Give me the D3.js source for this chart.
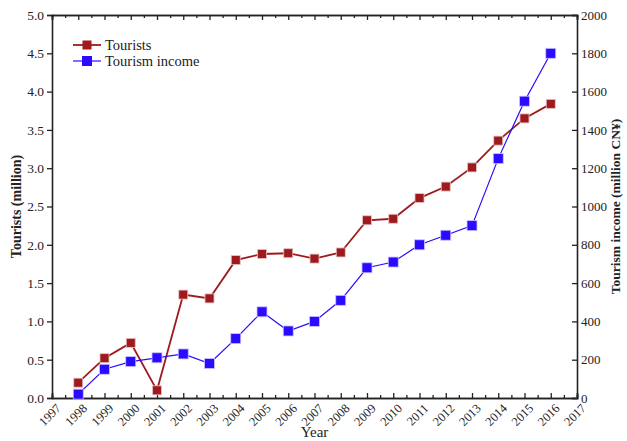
<!DOCTYPE html>
<html lang="en">
<head>
<meta charset="UTF-8">
<script src="https://d3js.org/d3.v7.min.js"></script>
<style>
  body { margin: 0; background: #fff; }
  svg text { font-family: "Liberation Serif", "DejaVu Serif", serif; fill: #222; }
</style>
</head>
<body>
<div id="viz"></div>
<script>
// data
var years = [1998,1999,2000,2001,2002,2003,2004,2005,2006,2007,2008,2009,2010,2011,2012,2013,2014,2015,2016];
var tourists = [0.2,0.52,0.72,0.1,1.35,1.3,1.8,1.88,1.89,1.82,1.9,2.32,2.34,2.61,2.76,3.01,3.36,3.65,3.84];
var income = [20,150,190,210,230,180,310,450,350,400,510,680,710,800,850,900,1250,1550,1800];
var leftTicks = [0,0.5,1,1.5,2,2.5,3,3.5,4,4.5,5];
var rightTicks = [0,200,400,600,800,1000,1200,1400,1600,1800,2000];
var yearTicks = d3.range(1997, 2018);

var W = 627, H = 441;
var m = {left: 52, right: 50, top: 15, bottom: 43};
var svg = d3.select("#viz").append("svg").attr("width", W).attr("height", H);

var x = d3.scaleLinear().domain([1997, 2017]).range([m.left, W - m.right]);
var yL = d3.scaleLinear().domain([0, 5]).range([H - m.bottom, m.top]);
var yR = d3.scaleLinear().domain([0, 2000]).range([H - m.bottom, m.top]);

var red = "#9e1a1d", blue = "#2a0bff";

// frame axes
var bottom = svg.append("g").attr("transform", "translate(0," + (H - m.bottom) + ")")
  .call(d3.axisBottom(x).tickValues(yearTicks).tickSize(-5).tickFormat(d3.format("d")));
bottom.selectAll(".tick text")
  .attr("transform", "rotate(-45)")
  .attr("text-anchor", "end")
  .attr("dx", "-0.1em").attr("dy", "0.9em")
  .style("font-size", "12.5px");
// minor ticks
svg.append("g").attr("transform", "translate(0," + (H - m.bottom) + ")")
  .call(d3.axisBottom(x).tickValues(d3.range(1997.5, 2017, 1)).tickSize(-3).tickFormat(""));
svg.append("g").attr("transform", "translate(0," + m.top + ")")
  .call(d3.axisTop(x).tickValues(yearTicks).tickSize(-5).tickFormat(""));
svg.append("g").attr("transform", "translate(0," + m.top + ")")
  .call(d3.axisTop(x).tickValues(d3.range(1997.5, 2017, 1)).tickSize(-3).tickFormat(""));

var left = svg.append("g").attr("transform", "translate(" + m.left + ",0)")
  .call(d3.axisLeft(yL).tickValues(leftTicks).tickSize(5).tickFormat(d3.format(".1f")));
left.selectAll(".tick text").style("font-size", "13.5px");

var right = svg.append("g").attr("transform", "translate(" + (W - m.right) + ",0)")
  .call(d3.axisRight(yR).tickValues(rightTicks).tickSize(-5).tickPadding(4).tickFormat(d3.format("d")));
right.selectAll(".tick text").style("font-size", "13px");

svg.selectAll(".domain").attr("stroke", "#222").attr("stroke-width", 1.6);
svg.selectAll(".tick line").attr("stroke", "#222").attr("stroke-width", 1.3);

// lines
svg.append("path").datum(years)
  .attr("fill", "none").attr("stroke", red).attr("stroke-width", 1.8)
  .attr("d", d3.line().x(d => x(d)).y((d, i) => yL(tourists[i])));
svg.append("path").datum(years)
  .attr("fill", "none").attr("stroke", blue).attr("stroke-width", 1.2)
  .attr("d", d3.line().x(d => x(d)).y((d, i) => yR(income[i])));

// markers
svg.selectAll(".mt").data(years).enter().append("rect")
  .attr("x", d => x(d) - 4.5).attr("y", (d, i) => yL(tourists[i]) - 4.5)
  .attr("width", 9).attr("height", 9)
  .attr("fill", red).attr("stroke", "#e6c4c4").attr("stroke-width", 0.8);
svg.selectAll(".mi").data(years).enter().append("rect")
  .attr("x", d => x(d) - 5).attr("y", (d, i) => yR(income[i]) - 5)
  .attr("width", 10).attr("height", 10)
  .attr("fill", blue).attr("stroke", "#c8c4ff").attr("stroke-width", 0.8);

// legend
var legend = [{name: "Tourists", c: red, w: 1.8, s: 9}, {name: "Tourism income", c: blue, w: 1.2, s: 10}];
legend.forEach(function(l, i) {
  var ly = 45 + i * 16;
  svg.append("line").attr("x1", 73).attr("x2", 101).attr("y1", ly).attr("y2", ly)
    .attr("stroke", l.c).attr("stroke-width", l.w);
  svg.append("rect").attr("x", 87 - l.s / 2).attr("y", ly - l.s / 2)
    .attr("width", l.s).attr("height", l.s).attr("fill", l.c);
  svg.append("text").attr("x", 105).attr("y", ly + 5).style("font-size", "14.5px").text(l.name);
});

// axis titles
svg.append("text").attr("x", (m.left + W - m.right) / 2).attr("y", 437)
  .attr("text-anchor", "middle").style("font-size", "15px").text("Year");
svg.append("text").attr("transform", "translate(21," + (m.top + H - m.bottom) / 2 + ") rotate(-90)")
  .attr("text-anchor", "middle").style("font-size", "14px").style("font-weight", "bold")
  .text("Tourists (million)");
svg.append("text").attr("transform", "translate(620," + (m.top + H - m.bottom) / 2 + ") rotate(-90)")
  .attr("text-anchor", "middle").style("font-size", "13.5px").style("font-weight", "bold")
  .text("Tourism income (million CN¥)");
</script>
</body>
</html>
